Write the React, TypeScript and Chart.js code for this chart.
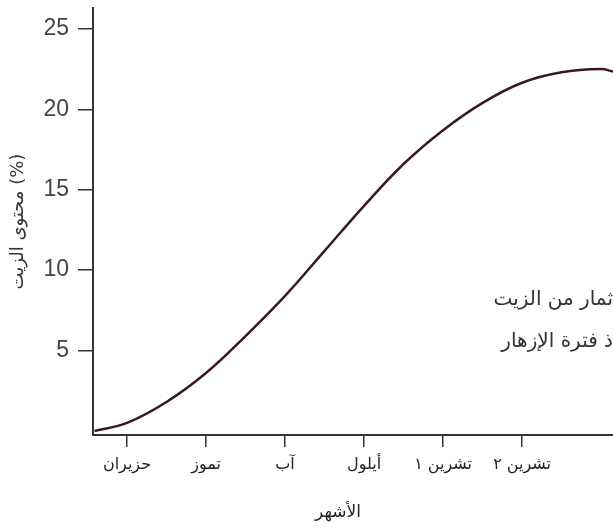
import React, { useEffect, useRef } from "react";
import { Chart, registerables } from "chart.js";

Chart.register(...registerables);

const monthLabels = ["حزيران", "تموز", "آب", "أيلول", "تشرين ١", "تشرين ٢"];
const monthPositions = [0, 1, 2, 3, 4, 5];
const curveX = [-0.41, 0, 0.5, 1, 1.5, 2, 2.5, 3, 3.5, 4, 4.5, 5, 5.5, 6, 6.15];
const curveY = [0, 0.5, 1.8, 3.6, 5.9, 8.4, 11.2, 14.0, 16.6, 18.7, 20.4, 21.65, 22.3, 22.5, 22.35];
const yTicks = [5, 10, 15, 20, 25];
const yTitle = "محتوى الزيت (%)";
const xTitle = "الأشهر";
const noteLines = ["ثمار من الزيت", "ذ فترة الإزهار"];

const notePlugin = {
  id: "notePlugin",
  afterDraw(chart: any) {
    const ctx = chart.ctx;
    ctx.save();
    ctx.font = '20px "DejaVu Sans", sans-serif';
    ctx.fillStyle = "#333";
    ctx.textAlign = "right";
    ctx.textBaseline = "middle";
    ctx.direction = "rtl";
    ctx.fillText(noteLines[0], 613, 300);
    ctx.fillText(noteLines[1], 613, 342);
    ctx.font = '17px "DejaVu Sans", sans-serif';
    ctx.fillStyle = "#222";
    ctx.textAlign = "center";
    ctx.fillText(xTitle, 338, 513);
    ctx.restore();
  },
};

export default function App() {
  const ref = useRef<HTMLCanvasElement>(null);
  useEffect(() => {
    if (!ref.current) return;
    const data = curveX.map((x, i) => ({ x, y: curveY[i] }));
    const chart = new Chart(ref.current, {
      type: "line",
      data: {
        datasets: [
          {
            data,
            borderColor: "#3a1a1a",
            borderWidth: 2.5,
            pointRadius: 0,
            tension: 0.4,
            fill: false,
          },
        ],
      },
      options: {
        animation: false,
        responsive: false,
        maintainAspectRatio: false,
        layout: { padding: { top: 8, right: 0, left: 0, bottom: 0 } },
        plugins: { legend: { display: false }, tooltip: { enabled: false } },
        scales: {
          x: {
            type: "linear",
            min: -0.43,
            max: 6.15,
            afterBuildTicks: (scale: any) => {
              scale.ticks = monthPositions.map((v) => ({ value: v }));
            },
            afterFit: (scale: any) => {
              scale.height = 93;
              scale.paddingLeft = 0;
              scale.paddingRight = 0;
            },
            ticks: {
              callback: (v: any) => monthLabels[Math.round(Number(v))] ?? "",
              color: "#222",
              font: { family: '"DejaVu Sans", sans-serif', size: 16 },
              padding: 8,
              maxRotation: 0,
              autoSkip: false,
            },
            grid: {
              display: true,
              drawOnChartArea: false,
              drawTicks: true,
              tickLength: 12,
              color: "#333",
              lineWidth: 1.5,
            },
            border: { display: true, color: "#333", width: 2 },
            title: { display: false, text: xTitle },
          },
          y: {
            type: "linear",
            min: -0.25,
            max: 26.3,
            afterBuildTicks: (scale: any) => {
              scale.ticks = yTicks.map((v) => ({ value: v }));
            },
            afterFit: (scale: any) => {
              scale.width = 93;
              scale.paddingTop = 0;
              scale.paddingBottom = 0;
            },
            ticks: {
              color: "#444",
              font: { family: '"Liberation Sans", Arial, sans-serif', size: 23 },
              padding: 9,
            },
            grid: {
              display: true,
              drawOnChartArea: false,
              drawTicks: true,
              tickLength: 15,
              color: "#333",
              lineWidth: 1.5,
            },
            border: { display: true, color: "#333", width: 2 },
            title: {
              display: true,
              text: yTitle,
              color: "#333",
              font: { family: '"DejaVu Sans", sans-serif', size: 18 },
              padding: { top: 8, bottom: 0 },
            },
          },
        },
      },
      plugins: [notePlugin],
    } as any);
    return () => chart.destroy();
  }, []);
  return (
    <div style={{ position: "fixed", left: 0, top: 0, width: 613, height: 528, background: "#fff" }}>
      <canvas ref={ref} width={613} height={528} style={{ display: "block" }} />
    </div>
  );
}
